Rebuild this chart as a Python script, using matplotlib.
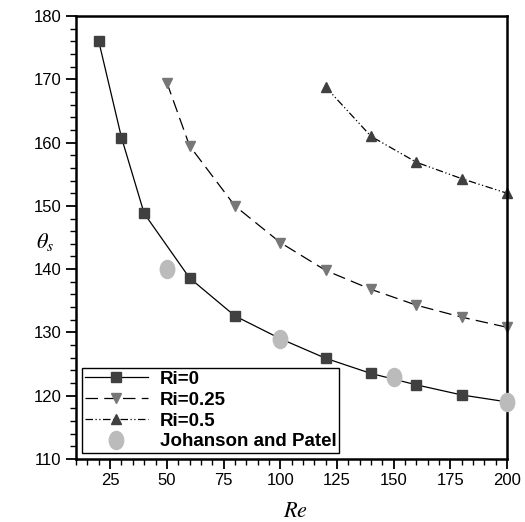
import matplotlib
matplotlib.use("Agg")
import matplotlib.pyplot as plt
from matplotlib.path import Path
from matplotlib.transforms import Affine2D
from matplotlib.ticker import MultipleLocator

plt.rcParams['font.family'] = ['Liberation Sans', 'DejaVu Sans']
plt.rcParams['mathtext.fontset'] = 'stix'

# data
re_ri0 = [20, 30, 40, 60, 80, 100, 120, 140, 160, 180, 200]
th_ri0 = [176.0, 160.8, 148.8, 138.6, 132.6, 129.0, 125.9, 123.5, 121.7, 120.1, 119.0]

re_ri025 = [50, 60, 80, 100, 120, 140, 160, 180, 200]
th_ri025 = [169.5, 159.5, 150.0, 144.2, 139.8, 136.8, 134.3, 132.4, 130.8]

re_ri05 = [120, 140, 160, 180, 200]
th_ri05 = [168.8, 161.0, 156.9, 154.3, 152.0]

re_jp = [50, 100, 150, 200]
th_jp = [140, 129, 123, 119]

# slightly tall ellipse, like the reference's circles
ellipse = Path.unit_circle().transformed(Affine2D().scale(0.8, 1.0))

fig = plt.figure(figsize=(5.25, 5.22), dpi=100)
ax = fig.add_axes([0.145, 0.121, 0.821, 0.848])

ax.plot(re_ri0, th_ri0, '-', color='black', lw=0.9, marker='s', ms=7,
        mfc='#404040', mec='#404040', label='Ri=0', clip_on=False)
ax.plot(re_ri025, th_ri025, color='black', lw=0.9, ls=(0, (10, 5)),
        marker='v', ms=7, mfc='#777777', mec='#777777', label='Ri=0.25',
        clip_on=False)
ax.plot(re_ri05, th_ri05, color='black', lw=0.9, ls=(0, (6, 2, 1, 2, 1, 2)),
        marker='^', ms=7, mfc='#404040', mec='#404040', label='Ri=0.5',
        clip_on=False)
ax.plot(re_jp, th_jp, ls='none', marker=ellipse, ms=13, color='#bbbbbb',
        label='Johanson and Patel', clip_on=False, zorder=5)

ax.set_xlim(10, 200)
ax.set_ylim(110, 180)
ax.xaxis.set_major_locator(MultipleLocator(25))
ax.xaxis.set_minor_locator(MultipleLocator(5))
ax.yaxis.set_major_locator(MultipleLocator(10))
ax.yaxis.set_minor_locator(MultipleLocator(2))
ax.tick_params(which='major', length=7, width=1.3, labelsize=12, direction='out')
ax.tick_params(which='minor', length=4, width=1, direction='out')
for s in ax.spines.values():
    s.set_linewidth(1.8)

ax.set_xlabel('$Re$', fontsize=16)
ax.set_ylabel(r'$\theta_s$', fontsize=16, rotation=0)
ax.xaxis.set_label_coords(0.508, -0.095)
ax.yaxis.set_label_coords(-0.072, 0.465)

leg = ax.legend(loc='lower left', prop={'weight': 'bold', 'size': 13.5},
                handlelength=3.4, fancybox=False, framealpha=1,
                edgecolor='black', borderaxespad=0.3, labelspacing=0.2,
                borderpad=0.15, handletextpad=0.6)
leg.get_frame().set_linewidth(1)

fig.savefig('out.png', dpi=100)
